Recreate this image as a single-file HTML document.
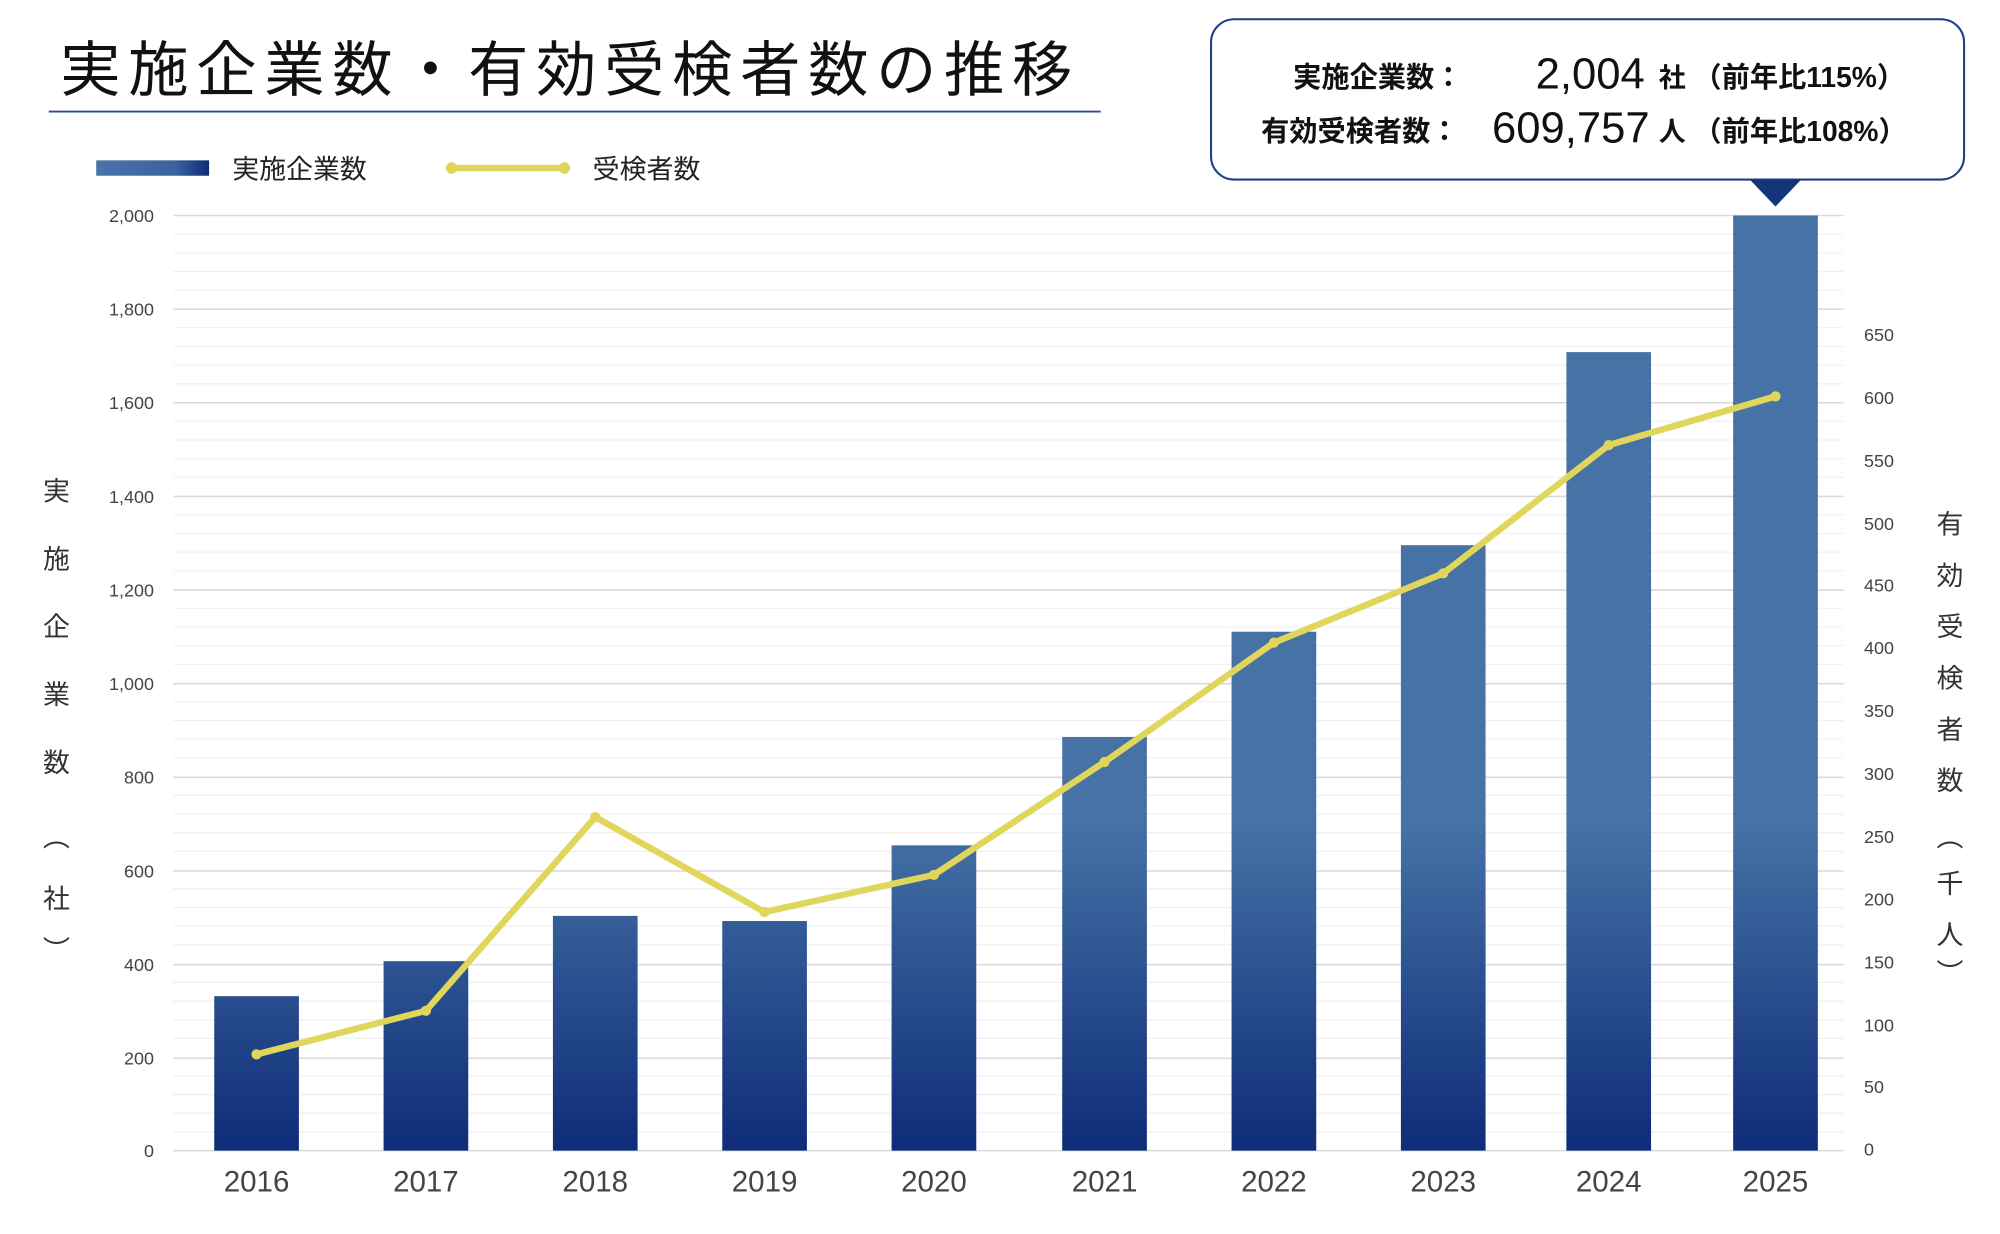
<!DOCTYPE html>
<html><head><meta charset="utf-8"><style>html,body{margin:0;padding:0;background:#fff;}svg{display:block}</style></head>
<body>
<svg width="2000" height="1234" viewBox="0 0 1559 962" preserveAspectRatio="none" xmlns="http://www.w3.org/2000/svg" font-family="'Liberation Sans','Noto Sans CJK JP',sans-serif">
<defs>
<linearGradient id="bg" gradientUnits="userSpaceOnUse" x1="0" y1="640" x2="0" y2="897">
<stop offset="0" stop-color="#4672a6"/><stop offset="1" stop-color="#0e2c78"/></linearGradient>
<linearGradient id="lg" x1="0" y1="0" x2="1" y2="0">
<stop offset="0" stop-color="#4a74a8"/><stop offset="0.7" stop-color="#3a63a0"/><stop offset="1" stop-color="#0e2c78"/></linearGradient>
</defs>
<rect width="1559" height="962" fill="#fff"/>
<text x="47" y="71" font-size="47" fill="#111" letter-spacing="6">実施企業数・有効受検者数の推移</text>
<line x1="38" y1="87" x2="858" y2="87" stroke="#2a4d8f" stroke-width="1.5"/>
<rect x="75" y="125" width="88" height="12" fill="url(#lg)"/>
<text x="181" y="139" font-size="21" fill="#222">実施企業数</text>
<line x1="352" y1="131" x2="440" y2="131" stroke="#e0d65c" stroke-width="5"/>
<circle cx="352" cy="131" r="4.5" fill="#e0d65c"/><circle cx="440" cy="131" r="4.5" fill="#e0d65c"/>
<text x="462" y="139" font-size="21" fill="#222">受検者数</text>
<g stroke="#f0f0f0" stroke-width="1">
<line x1="135" x2="1437" y1="182.6" y2="182.6"/><line x1="135" x2="1437" y1="197.2" y2="197.2"/><line x1="135" x2="1437" y1="211.7" y2="211.7"/><line x1="135" x2="1437" y1="226.3" y2="226.3"/>
<line x1="135" x2="1437" y1="255.5" y2="255.5"/><line x1="135" x2="1437" y1="270.1" y2="270.1"/><line x1="135" x2="1437" y1="284.6" y2="284.6"/><line x1="135" x2="1437" y1="299.2" y2="299.2"/>
<line x1="135" x2="1437" y1="328.4" y2="328.4"/><line x1="135" x2="1437" y1="343" y2="343"/><line x1="135" x2="1437" y1="357.5" y2="357.5"/><line x1="135" x2="1437" y1="372.1" y2="372.1"/>
<line x1="135" x2="1437" y1="401.3" y2="401.3"/><line x1="135" x2="1437" y1="415.9" y2="415.9"/><line x1="135" x2="1437" y1="430.4" y2="430.4"/><line x1="135" x2="1437" y1="445" y2="445"/>
<line x1="135" x2="1437" y1="474.2" y2="474.2"/><line x1="135" x2="1437" y1="488.8" y2="488.8"/><line x1="135" x2="1437" y1="503.3" y2="503.3"/><line x1="135" x2="1437" y1="517.9" y2="517.9"/>
<line x1="135" x2="1437" y1="547.1" y2="547.1"/><line x1="135" x2="1437" y1="561.7" y2="561.7"/><line x1="135" x2="1437" y1="576.2" y2="576.2"/><line x1="135" x2="1437" y1="590.8" y2="590.8"/>
<line x1="135" x2="1437" y1="620" y2="620"/><line x1="135" x2="1437" y1="634.6" y2="634.6"/><line x1="135" x2="1437" y1="649.1" y2="649.1"/><line x1="135" x2="1437" y1="663.7" y2="663.7"/>
<line x1="135" x2="1437" y1="692.9" y2="692.9"/><line x1="135" x2="1437" y1="707.5" y2="707.5"/><line x1="135" x2="1437" y1="722" y2="722"/><line x1="135" x2="1437" y1="736.6" y2="736.6"/>
<line x1="135" x2="1437" y1="765.8" y2="765.8"/><line x1="135" x2="1437" y1="780.4" y2="780.4"/><line x1="135" x2="1437" y1="794.9" y2="794.9"/><line x1="135" x2="1437" y1="809.5" y2="809.5"/>
<line x1="135" x2="1437" y1="838.7" y2="838.7"/><line x1="135" x2="1437" y1="853.3" y2="853.3"/><line x1="135" x2="1437" y1="867.8" y2="867.8"/><line x1="135" x2="1437" y1="882.4" y2="882.4"/>
</g>
<g stroke="#d9d9d9" stroke-width="1.2">
<line x1="135" x2="1437" y1="168" y2="168"/><line x1="135" x2="1437" y1="241" y2="241"/><line x1="135" x2="1437" y1="314" y2="314"/><line x1="135" x2="1437" y1="387" y2="387"/><line x1="135" x2="1437" y1="460" y2="460"/><line x1="135" x2="1437" y1="533" y2="533"/><line x1="135" x2="1437" y1="606" y2="606"/><line x1="135" x2="1437" y1="679" y2="679"/><line x1="135" x2="1437" y1="752" y2="752"/><line x1="135" x2="1437" y1="825" y2="825"/><line x1="135" x2="1437" y1="897" y2="897"/>
</g>
<g font-size="14" fill="#444" text-anchor="end">
<text x="120" y="173">2,000</text><text x="120" y="246">1,800</text><text x="120" y="319">1,600</text><text x="120" y="392">1,400</text><text x="120" y="465">1,200</text><text x="120" y="538">1,000</text><text x="120" y="611">800</text><text x="120" y="684">600</text><text x="120" y="757">400</text><text x="120" y="830">200</text><text x="120" y="902">0</text>
</g>
<g font-size="14" fill="#444">
<text x="1453" y="266">650</text><text x="1453" y="315">600</text><text x="1453" y="364">550</text><text x="1453" y="413">500</text><text x="1453" y="461">450</text><text x="1453" y="510">400</text><text x="1453" y="559">350</text><text x="1453" y="608">300</text><text x="1453" y="657">250</text><text x="1453" y="706">200</text><text x="1453" y="755">150</text><text x="1453" y="804">100</text><text x="1453" y="852">50</text><text x="1453" y="901">0</text>
</g>
<g font-size="21" fill="#333" text-anchor="middle">
<text x="44" y="390">実</text><text x="44" y="443">施</text><text x="44" y="496">企</text><text x="44" y="549">業</text><text x="44" y="602">数</text><text x="44" y="660">︵</text><text x="44" y="708">社</text><text x="44" y="748">︶</text>
<text x="1520" y="416">有</text><text x="1520" y="456">効</text><text x="1520" y="496">受</text><text x="1520" y="536">検</text><text x="1520" y="576">者</text><text x="1520" y="616">数</text><text x="1520" y="660">︵</text><text x="1520" y="696">千</text><text x="1520" y="736">人</text><text x="1520" y="766">︶</text>
</g>
<g fill="url(#bg)">
<rect x="167" y="776.6" width="66" height="120.4"/>
<rect x="299" y="749.3" width="66" height="147.7"/>
<rect x="431" y="714" width="66" height="183"/>
<rect x="563" y="718" width="66" height="179"/>
<rect x="695" y="659" width="66" height="238"/>
<rect x="828" y="574.5" width="66" height="322.5"/>
<rect x="960" y="492.5" width="66" height="404.5"/>
<rect x="1092" y="425" width="66" height="472"/>
<rect x="1221" y="274.5" width="66" height="622.5"/>
<rect x="1351" y="168" width="66" height="729"/>
</g>
<polyline points="200,822 332,788 464,637 596,711 728,682 861,594 993,501 1125,447 1254,347 1384,309" fill="none" stroke="#e0d65c" stroke-width="5" stroke-linejoin="round"/>
<g fill="#e0d65c">
<circle cx="200" cy="822" r="4"/><circle cx="332" cy="788" r="4"/><circle cx="464" cy="637" r="4"/><circle cx="596" cy="711" r="4"/><circle cx="728" cy="682" r="4"/><circle cx="861" cy="594" r="4"/><circle cx="993" cy="501" r="4"/><circle cx="1125" cy="447" r="4"/><circle cx="1254" cy="347" r="4"/><circle cx="1384" cy="309" r="4"/>
</g>
<g font-size="23" fill="#444" text-anchor="middle">
<text x="200" y="929">2016</text><text x="332" y="929">2017</text><text x="464" y="929">2018</text><text x="596" y="929">2019</text><text x="728" y="929">2020</text><text x="861" y="929">2021</text><text x="993" y="929">2022</text><text x="1125" y="929">2023</text><text x="1254" y="929">2024</text><text x="1384" y="929">2025</text>
</g>
<rect x="944" y="15" width="587" height="125" rx="18" fill="#fff" stroke="#1f3f86" stroke-width="1.6"/>
<polygon points="1364,140 1404,140 1384,161" fill="#15357a"/>
<g fill="#111" font-weight="bold">
<text x="1008" y="68" font-size="22">実施企業数：</text>
<text x="1197" y="69" font-size="34" font-weight="normal">2,004</text>
<text x="1293" y="68" font-size="21">社</text>
<text x="1320" y="68" font-size="22">（前年比115%）</text>
<text x="983" y="110" font-size="22">有効受検者数：</text>
<text x="1163" y="111" font-size="34" font-weight="normal">609,757</text>
<text x="1293" y="110" font-size="21">人</text>
<text x="1320" y="110" font-size="22">（前年比108%）</text>
</g>
</svg>
</body></html>
